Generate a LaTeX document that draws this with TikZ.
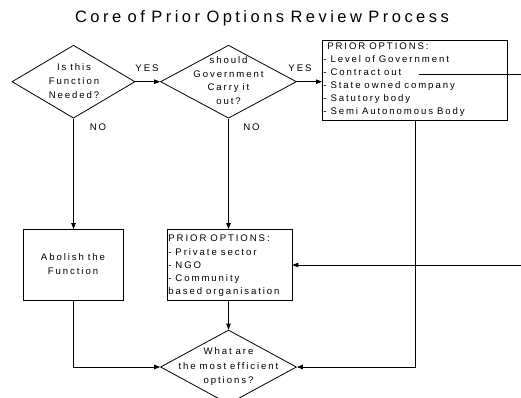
\documentclass[tikz,border=0pt]{standalone}
\usepackage{fontspec}
\setmainfont{Liberation Sans}[LetterSpace=20,WordSpace=0.85]
\newfontfamily\titlefont{Liberation Sans}[LetterSpace=21,WordSpace=0.8]
\usetikzlibrary{shapes.geometric,arrows.meta}
\begin{document}
\begin{tikzpicture}[x=1pt,y=-1pt,
  line width=0.8pt,
  dia/.style={draw,diamond,inner sep=0pt},
  boxnode/.style={draw,rectangle,inner sep=0pt},
  txt/.style={font=\fontsize{9.6}{14}\selectfont,align=center,inner sep=0pt},
  listtxt/.style={font=\fontsize{9.6}{13}\selectfont,align=left,anchor=north west,inner sep=0pt},
  lbl/.style={font=\fontsize{9.6}{12}\selectfont,inner sep=0pt},
  arr/.style={-{Triangle[length=6pt,width=4.5pt]}}]
\useasboundingbox (0,0) rectangle (521,398);
\node[font=\titlefont\fontsize{16.5}{18}\selectfont,inner sep=0pt] (title) at (262,18) {Core of Prior Options Review Process};
% diamonds
\node[dia,minimum width=123pt,minimum height=73pt] (d1) at (73.5,81.7) {};
\node[txt] (d1t) at (74,81.5) {Is this\\Function\\Needed?};
\node[dia,minimum width=136pt,minimum height=73pt] (d2) at (228.5,81.7) {};
\node[txt,font=\fontsize{9.6}{13.6}\selectfont] (d2t) at (228.5,80.5) {should\\Government\\Carry it\\out?};
\node[dia,minimum width=136pt,minimum height=74pt] (d3) at (228.5,367) {};
\node[txt,font=\fontsize{9.6}{14.5}\selectfont] (d3t) at (228.5,367) {What are\\the most efficient\\options?};
% boxes
\node[boxnode,minimum width=185pt,minimum height=80pt,anchor=north west] (b1) at (322,40) {};
\node[listtxt] (b1t) at (323,42) {\ PRIOR OPTIONS:\\- Level of Government\\- Contract out\\- State owned company\\- Satutory body\\- Semi Autonomous Body};
\node[boxnode,minimum width=100pt,minimum height=71pt,anchor=north west] (ab) at (23,229) {};
\node[txt] (abt) at (73,264) {Abolish the\\Function};
\node[boxnode,minimum width=125pt,minimum height=71pt,anchor=north west] (b2) at (166.5,229) {};
\node[listtxt,font=\fontsize{9.6}{13.2}\selectfont] (b2t) at (168,234.8) {PRIOR OPTIONS:\\- Private sector\\- NGO\\- Community\\based organisation};
% labels
\node[lbl] (yes1) at (147,68) {YES};
\node[lbl] (yes2) at (300,68) {YES};
\node[lbl] (no1) at (98,127) {NO};
\node[lbl] (no2) at (251.5,127) {NO};
% connector coordinates
\coordinate (co) at (419,74);
\coordinate (coe) at (521,74);
\coordinate (ine) at (521,265);
\coordinate (c1) at (73,367);
\coordinate (c2) at (415,367);
% connectors
\draw[arr] (d1.east) -- (d2.west);
\draw[arr] (d2.east) -- (b1.west |- d2.east);
\draw[arr] (d1.south) -- (d1.south |- ab.north);
\draw[arr] (d2.south) -- (d2.south |- b2.north);
\draw[arr] (b2.south -| d3.north) -- (d3.north);
\draw[arr] (ab.south -| c1) -- (c1) -- (d3.west);
\draw[arr] (c2 |- b1.south) -- (c2) -- (d3.east);
\draw (co) -- (coe);
\draw[arr] (ine) -- (b2.east |- ine);
\end{tikzpicture}
\end{document}
